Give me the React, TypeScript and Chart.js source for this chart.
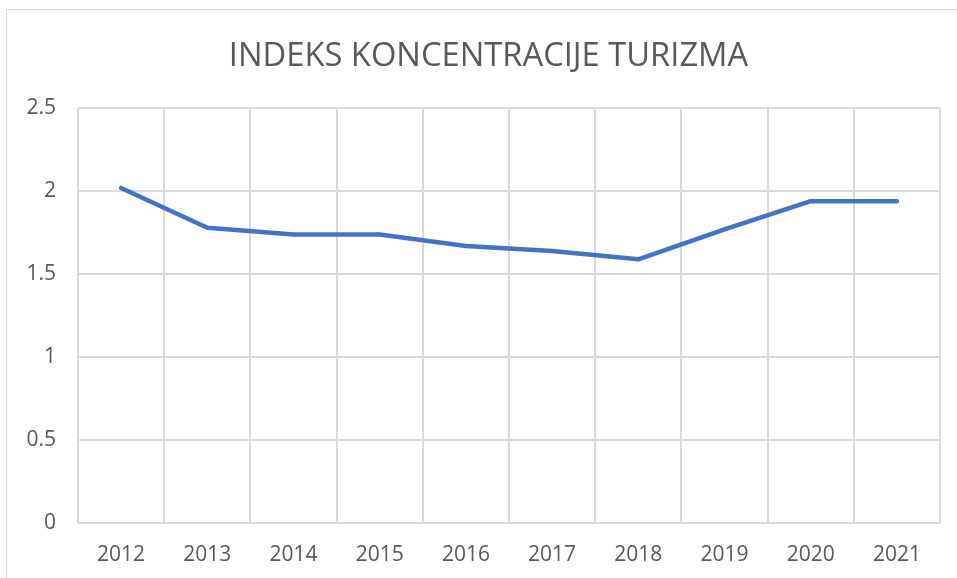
import React, { useEffect, useRef } from "react";
import { Chart, registerables } from "chart.js";

Chart.register(...registerables);

const title = "INDEKS KONCENTRACIJE TURIZMA";
const years = ["2012", "2013", "2014", "2015", "2016", "2017", "2018", "2019", "2020", "2021"];
const indexValues = [2.02, 1.78, 1.74, 1.74, 1.67, 1.64, 1.59, 1.77, 1.94, 1.94];
const yMin = 0;
const yMax = 2.5;
const yStep = 0.5;

const TEXT = "#595959";
const GRID = "#d9d9d9";
const LINE = "#4472C4";
const FONT = "'Open Sans', 'Noto Sans', sans-serif";

export default function App() {
  const ref = useRef<HTMLCanvasElement | null>(null);

  useEffect(() => {
    if (!ref.current) return;
    const chart = new Chart(ref.current, {
      type: "line",
      data: {
        labels: years,
        datasets: [
          {
            label: title,
            data: indexValues,
            borderColor: LINE,
            backgroundColor: LINE,
            borderWidth: 4.5,
            pointRadius: 0,
            pointHoverRadius: 0,
            tension: 0,
            borderCapStyle: "round",
            borderJoinStyle: "round",
            yAxisID: "y",
          },
        ],
      },
      options: {
        responsive: false,
        animation: false,
        devicePixelRatio: 1,
        layout: { padding: { left: 0, right: 0, top: 0, bottom: 0 } },
        plugins: {
          legend: { display: false },
          tooltip: { enabled: false },
          title: {
            display: true,
            text: title,
            color: TEXT,
            font: { family: FONT, size: 32.7, weight: "normal" },
            padding: { top: 27, bottom: 32 },
          },
        },
        scales: {
          x: {
            offset: true,
            grid: { offset: true, color: GRID, lineWidth: 2, drawTicks: false },
            border: { display: false },
            ticks: { color: TEXT, font: { family: FONT, size: 21 }, padding: 19, maxRotation: 0 },
            afterFit: (axis: any) => {
              axis.height = 66.7;
            },
          },
          y: {
            min: yMin,
            max: yMax,
            grid: { color: GRID, lineWidth: 2, drawTicks: false },
            border: { display: false },
            ticks: {
              stepSize: yStep,
              color: TEXT,
              font: { family: FONT, size: 21 },
              padding: 22,
              callback: (v: any) => String(Number(v)),
            },
            afterFit: (axis: any) => {
              axis.width = 71;
            },
          },
          yRight: {
            type: "linear",
            position: "right",
            min: yMin,
            max: yMax,
            grid: { display: false, drawTicks: false },
            border: { display: false },
            ticks: { display: false },
            afterFit: (axis: any) => {
              axis.width = 30;
            },
          },
        },
      },
    });
    return () => chart.destroy();
  }, []);

  return (
    <div
      style={{
        position: "fixed",
        left: 0,
        top: 0,
        width: 957,
        height: 578,
        overflow: "hidden",
        background: "#fff",
      }}
    >
      <div
        style={{
          position: "absolute",
          left: 6,
          top: 9,
          width: 963,
          height: 580,
          border: `1px solid ${GRID}`,
          boxSizing: "content-box",
        }}
      >
        <canvas ref={ref} width={963} height={580} style={{ display: "block" }} />
      </div>
    </div>
  );
}
